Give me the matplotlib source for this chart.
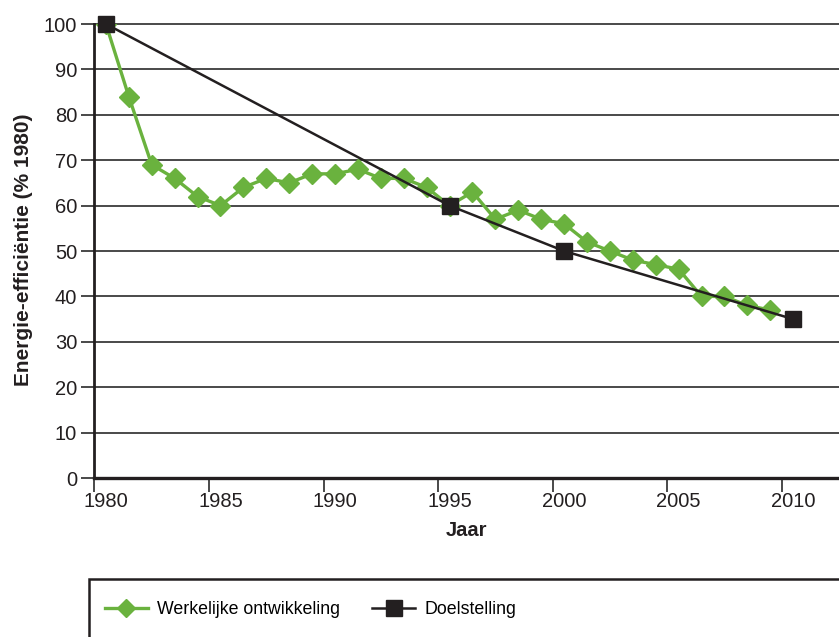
import matplotlib.pyplot as plt
import matplotlib
from matplotlib import font_manager
from matplotlib.lines import Line2D
from matplotlib.patches import Rectangle
import numpy as np

# data
years = list(range(1980, 2010))
werkelijk = [100, 84, 69, 66, 62, 60, 64, 66, 65, 67, 67, 68, 66, 66, 64,
             60, 63, 57, 59, 57, 56, 52, 50, 48, 47, 46, 40, 40, 38, 37]
doel_years = [1980, 1995, 2000, 2010]
doel = [100, 60, 50, 35]
tick_years = [1980, 1985, 1990, 1995, 2000, 2005, 2010]

plt.rcParams['font.family'] = ['Liberation Sans', 'DejaVu Sans']

green = '#6ab23e'
black = '#231f20'
grid = '#3a3a3a'

fig = plt.figure(figsize=(8.39, 6.37), dpi=100)
ax = fig.add_axes([0.1126, 0.2496, 0.8874, 0.7127])

# points sit in the middle of each year
x1 = np.array(years) + 0.5
x2 = np.array(doel_years) + 0.5

for v in range(0, 101, 10):
    ax.axhline(v, color=grid, lw=1.3, zorder=1, clip_on=False)

ax.plot(x1, werkelijk, color=green, lw=2.4, marker='D', ms=10,
        mec=green, zorder=3, label='Werkelijke ontwikkeling')
ax.plot(x2, doel, color=black, lw=1.8, marker='s', ms=11,
        zorder=4, label='Doelstelling', clip_on=False)

ax.set_xlim(1980, 2012.5)
ax.set_ylim(0, 100)
ax.set_yticks(range(0, 101, 10))
ax.set_xticks(tick_years)
ax.set_xticklabels([])
ax.set_xticks(np.array(tick_years) + 0.5, minor=True)
ax.set_xticklabels([str(y) for y in tick_years], minor=True)
ax.tick_params(axis='x', which='minor', length=0, pad=10, labelsize=14.5, colors='#231f20')
ax.tick_params(axis='x', which='major', length=10, width=1.3, color=grid)
ax.tick_params(axis='y', length=9.5, width=1.3, color=grid, pad=3, labelsize=14.5, labelcolor='#231f20')

for s in ['top', 'right']:
    ax.spines[s].set_visible(False)
ax.spines['left'].set_linewidth(2)
ax.spines['left'].set_color(black)
ax.spines['bottom'].set_linewidth(2.4)
ax.spines['bottom'].set_color(black)
ax.spines['left'].set_zorder(5)
ax.spines['bottom'].set_zorder(5)

fig.text(24 / 839, 1 - 250 / 637, 'Energie-efficiëntie (% 1980)', rotation=90,
         ha='center', va='center', fontsize=15, fontweight='bold', color=black)
fig.text(466 / 839, 1 - 530 / 637, 'Jaar', ha='center', va='center',
         fontsize=14.5, fontweight='bold', color=black)

# legend box running off the page
fig.patches.append(Rectangle((89 / 839, -0.05), 1.0, 1 - 579 / 637 + 0.05,
                             transform=fig.transFigure, fill=False,
                             ec=black, lw=1.8))
handles = [Line2D([], [], color=green, lw=2.4, marker='D', ms=9, mec=green),
           Line2D([], [], color=black, lw=1.8, marker='s', ms=11)]
fig.legend(handles, ['Werkelijke ontwikkeling', 'Doelstelling'], ncol=2,
           loc='center left', bbox_to_anchor=(105 / 839, 1 - 610 / 637),
           frameon=False, handlelength=2.4, handletextpad=0.55,
           borderaxespad=0, borderpad=0,
           columnspacing=1.8, prop={'size': 12.8})

fig.savefig('out.png', dpi=100)
